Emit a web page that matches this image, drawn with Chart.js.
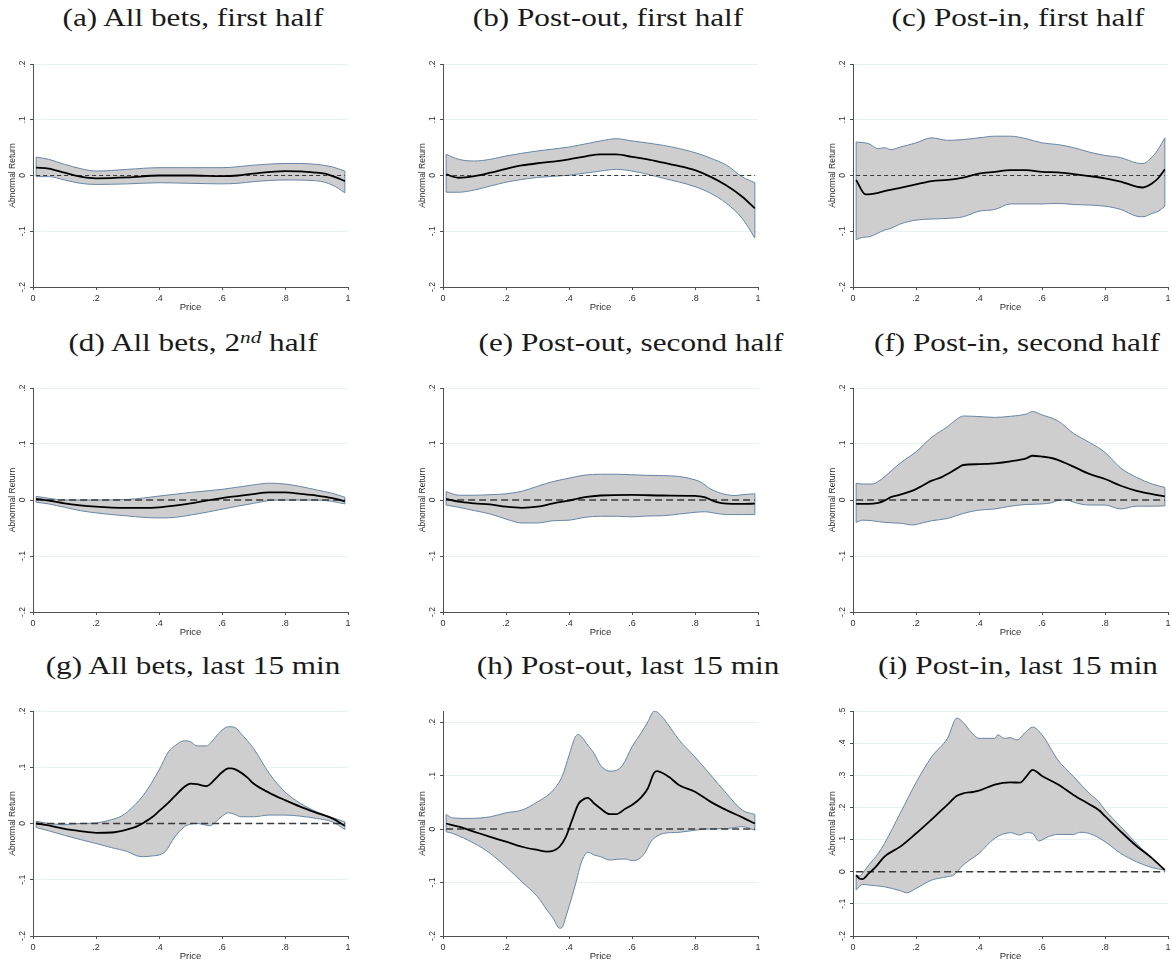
<!DOCTYPE html>
<html>
<head>
<meta charset="utf-8">
<script src="https://cdn.jsdelivr.net/npm/chart.js@4.4.0/dist/chart.umd.min.js"></script>
<style>
  html, body { margin: 0; padding: 0; background: #fff; width: 1171px; height: 965px; overflow: hidden; position: relative; }
  canvas.panel { position: absolute; }
  .cap {
    position: absolute; white-space: nowrap; color: #1a1a1a;
    font-family: "Liberation Serif", "Times New Roman", serif;
    font-size: 26px; line-height: 26px;
    transform: translateX(-50%) scaleX(1.2);
  }
  .cap .sup { font-style: italic; font-size: 0.68em; position: relative; top: -0.45em; }
</style>
</head>
<body>
<script>
// Axis ticks (Stata-style labels without leading zero)
const xTickValues = [0, 0.2, 0.4, 0.6, 0.8, 1];
const xTickLabels = ['0', '.2', '.4', '.6', '.8', '1'];
const yTickValues = [-0.2, -0.1, 0, 0.1, 0.2];
const yTickLabels = ['-.2', '-.1', '0', '.1', '.2'];
const yTickValuesWide = [-0.2, -0.1, 0, 0.1, 0.2, 0.3, 0.4, 0.5];
const yTickLabelsWide = ['-.2', '-.1', '0', '.1', '.2', '.3', '.4', '.5'];

// Range of the zero reference line
const zeroRange = [0.01, 0.99];

// (a) All bets, first half  — [price, abnormal return]
const aMid = [[.01,.014],[.05,.0125],[.1,.005],[.15,-.002],[.2,-.005],[.3,-.0035],[.4,0],[.5,0],[.6,-.001],[.65,0],[.7,.0035],[.8,.008],[.85,.0075],[.9,.005],[.93,.003],[.96,-.003],[.99,-.01]];
const aUpper = [[.01,.033],[.05,.029],[.1,.02],[.15,.0125],[.2,.008],[.3,.011],[.4,.014],[.5,.014],[.6,.014],[.7,.0185],[.8,.0215],[.85,.0215],[.9,.02],[.95,.0155],[.99,.008]];
const aLower = [[.01,-.002],[.05,-.002],[.1,-.008],[.15,-.014],[.2,-.016],[.3,-.015],[.4,-.013],[.5,-.014],[.6,-.015],[.65,-.014],[.7,-.011],[.8,-.008],[.9,-.0095],[.95,-.017],[.99,-.031]];

// (b) Post-out, first half
const bMid = [[.01,.002],[.05,-.004],[.1,-.001],[.15,.005],[.2,.012],[.25,.018],[.3,.022],[.35,.025],[.4,.029],[.45,.034],[.5,.038],[.55,.038],[.6,.0335],[.65,.029],[.7,.023],[.75,.017],[.8,.0095],[.85,-.0025],[.9,-.018],[.95,-.038],[.99,-.059]];
const bUpper = [[.01,.038],[.05,.029],[.1,.026],[.15,.029],[.2,.035],[.3,.044],[.4,.051],[.5,.062],[.55,.066],[.6,.062],[.7,.054],[.8,.041],[.85,.031],[.9,.0185],[.95,-.0025],[.99,-.013]];
const bLower = [[.01,-.03],[.05,-.03],[.1,-.026],[.15,-.019],[.2,-.012],[.3,-.0035],[.4,.0005],[.5,.008],[.55,.011],[.6,.008],[.7,-.005],[.8,-.02],[.85,-.032],[.9,-.05],[.95,-.077],[.99,-.112]];

// (c) Post-in, first half
const cMid = [[.01,-.008],[.04,-.034],[.08,-.031],[.1,-.028],[.15,-.022],[.2,-.016],[.25,-.01],[.3,-.008],[.35,-.004],[.4,.0035],[.45,.0065],[.5,.0095],[.55,.0095],[.6,.0065],[.65,.0055],[.7,.0025],[.75,-.001],[.8,-.005],[.85,-.011],[.9,-.02],[.92,-.0215],[.95,-.014],[.97,-.004],[.99,.011]];
const cUpper = [[.01,.06],[.05,.057],[.08,.048],[.1,.05],[.12,.0465],[.15,.051],[.2,.0585],[.25,.0675],[.3,.063],[.35,.0645],[.4,.0675],[.45,.0705],[.5,.0705],[.55,.066],[.6,.0585],[.65,.0555],[.7,.05],[.75,.042],[.8,.036],[.85,.032],[.9,.0225],[.92,.0215],[.95,.0335],[.97,.048],[.99,.0675]];
const cLower = [[.01,-.115],[.03,-.111],[.05,-.11],[.08,-.103],[.1,-.098],[.12,-.095],[.15,-.087],[.2,-.08],[.25,-.078],[.3,-.077],[.35,-.074],[.4,-.064],[.45,-.061],[.5,-.051],[.55,-.051],[.6,-.051],[.65,-.05],[.7,-.052],[.75,-.053],[.8,-.055],[.85,-.061],[.9,-.073],[.92,-.074],[.95,-.068],[.97,-.064],[.99,-.055]];

// (d) All bets, 2nd half
const dMid = [[.01,.002],[.05,-.001],[.1,-.006],[.15,-.0095],[.2,-.012],[.25,-.0135],[.3,-.014],[.35,-.014],[.4,-.013],[.45,-.01],[.5,-.006],[.55,-.001],[.6,.0035],[.65,.007],[.7,.0105],[.75,.0135],[.8,.0135],[.85,.011],[.9,.008],[.95,.0035],[.99,-.0025]];
const dUpper = [[.01,.0065],[.05,.003],[.1,0],[.2,0],[.3,.001],[.35,.0035],[.4,.007],[.5,.0135],[.6,.019],[.7,.027],[.75,.03],[.8,.0285],[.85,.024],[.9,.018],[.95,.012],[.99,.005]];
const dLower = [[.01,-.004],[.05,-.007],[.1,-.013],[.15,-.019],[.2,-.023],[.25,-.026],[.3,-.0285],[.35,-.031],[.4,-.032],[.45,-.031],[.5,-.027],[.55,-.022],[.6,-.0165],[.65,-.011],[.7,-.006],[.75,-.001],[.8,0],[.85,0],[.9,0],[.95,-.0025],[.99,-.007]];

// (e) Post-out, second half
const eMid = [[.01,.002],[.05,-.003],[.1,-.006],[.15,-.008],[.2,-.012],[.25,-.014],[.3,-.012],[.35,-.006],[.4,-.001],[.45,.005],[.5,.008],[.6,.009],[.7,.008],[.8,.0075],[.83,.005],[.87,-.004],[.9,-.0065],[.95,-.007],[.99,-.0065]];
const eUpper = [[.01,.015],[.03,.011],[.05,.0085],[.1,.0085],[.15,.0095],[.2,.011],[.25,.0155],[.3,.0245],[.35,.033],[.4,.039],[.45,.0445],[.5,.046],[.55,.046],[.6,.045],[.65,.044],[.7,.0435],[.75,.042],[.8,.036],[.82,.0315],[.85,.0195],[.9,.0095],[.93,.008],[.95,.0095],[.99,.011]];
const eLower = [[.01,-.009],[.05,-.013],[.1,-.019],[.15,-.025],[.2,-.034],[.25,-.041],[.3,-.041],[.35,-.037],[.4,-.036],[.45,-.031],[.5,-.029],[.55,-.029],[.6,-.03],[.65,-.0285],[.7,-.028],[.75,-.025],[.8,-.022],[.83,-.021],[.87,-.024],[.9,-.026],[.95,-.026],[.99,-.026]];

// (f) Post-in, second half
const fMid = [[.01,-.007],[.05,-.007],[.08,-.005],[.1,-.001],[.12,.005],[.15,.0095],[.18,.015],[.2,.0195],[.22,.0255],[.25,.0345],[.28,.0405],[.3,.0465],[.33,.0565],[.35,.0625],[.4,.064],[.45,.0655],[.5,.069],[.55,.0745],[.57,.079],[.6,.0775],[.63,.075],[.65,.0715],[.7,.0595],[.75,.0465],[.8,.0375],[.85,.0255],[.9,.0165],[.95,.0105],[.99,.0065]];
const fUpper = [[.01,.03],[.03,.0285],[.06,.0285],[.08,.033],[.1,.0415],[.15,.066],[.2,.086],[.25,.112],[.3,.131],[.33,.1445],[.35,.15],[.4,.149],[.45,.1475],[.5,.1495],[.55,.1535],[.57,.158],[.6,.152],[.65,.1415],[.7,.119],[.75,.103],[.8,.085],[.85,.057],[.9,.0405],[.95,.0285],[.99,.0225]];
const fLower = [[.01,-.04],[.03,-.036],[.06,-.037],[.1,-.04],[.15,-.0415],[.19,-.0445],[.22,-.041],[.25,-.037],[.3,-.033],[.35,-.024],[.4,-.018],[.45,-.016],[.5,-.011],[.55,-.008],[.6,-.007],[.63,-.005],[.65,-.001],[.68,0],[.7,-.004],[.75,-.009],[.8,-.009],[.85,-.016],[.9,-.011],[.95,-.011],[.99,-.0105]];

// (g) All bets, last 15 min
const gMid = [[.01,0],[.05,-.0035],[.1,-.0095],[.15,-.0135],[.2,-.0165],[.25,-.016],[.3,-.0105],[.33,-.005],[.35,.001],[.38,.012],[.4,.022],[.43,.037],[.45,.0485],[.48,.065],[.5,.071],[.52,.07],[.55,.0665],[.58,.08],[.6,.091],[.62,.098],[.63,.098],[.65,.094],[.68,.082],[.7,.071],[.75,.0545],[.8,.0415],[.85,.0295],[.9,.019],[.95,.009],[.99,-.004]];
const gUpper = [[.01,.004],[.05,0],[.1,-.002],[.15,0],[.2,.001],[.25,.007],[.28,.013],[.3,.021],[.35,.05],[.4,.095],[.43,.1275],[.45,.138],[.48,.147],[.5,.1455],[.52,.138],[.55,.138],[.58,.154],[.6,.166],[.62,.172],[.64,.171],[.66,.16],[.7,.1335],[.75,.089],[.8,.056],[.85,.0355],[.9,.021],[.95,.0105],[.99,.003]];
const gLower = [[.01,-.007],[.05,-.013],[.1,-.021],[.15,-.0285],[.2,-.0355],[.25,-.043],[.3,-.05],[.33,-.0575],[.35,-.059],[.38,-.0575],[.4,-.056],[.42,-.05],[.45,-.024],[.48,-.006],[.5,-.001],[.52,0],[.55,-.003],[.56,-.004],[.58,.003],[.6,.013],[.62,.019],[.64,.0165],[.66,.012],[.7,.012],[.75,.015],[.8,.015],[.85,.013],[.9,.009],[.95,.003],[.99,-.0105]];

// (h) Post-out, last 15 min
const hMid = [[.01,.0105],[.05,.0045],[.1,-.005],[.15,-.0145],[.2,-.0235],[.25,-.033],[.3,-.039],[.33,-.042],[.35,-.0405],[.37,-.033],[.39,-.0145],[.41,.017],[.43,.047],[.45,.057],[.46,.0585],[.48,.048],[.5,.0385],[.53,.028],[.55,.028],[.58,.0385],[.6,.045],[.63,.06],[.65,.076],[.67,.105],[.68,.1085],[.7,.104],[.72,.0965],[.75,.082],[.8,.07],[.85,.051],[.9,.0355],[.95,.022],[.99,.0105]];
const hUpper = [[.01,.0275],[.03,.021],[.08,.02],[.15,.023],[.2,.0305],[.25,.0355],[.3,.051],[.35,.073],[.38,.101],[.4,.138],[.42,.1725],[.43,.177],[.44,.1725],[.46,.157],[.48,.1415],[.5,.1195],[.53,.1085],[.55,.11],[.57,.1195],[.6,.154],[.63,.181],[.65,.2005],[.67,.2205],[.68,.219],[.7,.207],[.75,.1665],[.8,.135],[.85,.101],[.9,.0665],[.95,.0355],[.99,.0275]];
const hLower = [[.01,-.005],[.03,-.008],[.1,-.027],[.15,-.0455],[.2,-.0705],[.25,-.0985],[.3,-.1265],[.33,-.1515],[.35,-.167],[.37,-.1855],[.38,-.1825],[.39,-.164],[.4,-.145],[.42,-.1045],[.44,-.061],[.46,-.0435],[.48,-.0485],[.5,-.0515],[.53,-.058],[.55,-.0565],[.58,-.056],[.6,-.059],[.62,-.0565],[.64,-.0455],[.66,-.0235],[.68,-.013],[.7,-.008],[.75,-.006],[.8,-.002],[.85,.0005],[.9,.001],[.95,.0045],[.99,-.002]];

// (i) Post-in, last 15 min
const iMid = [[.01,-.0105],[.02,-.021],[.03,-.023],[.05,-.005],[.07,.0125],[.1,.047],[.15,.078],[.2,.119],[.25,.163],[.3,.209],[.33,.236],[.35,.244],[.38,.248],[.4,.252],[.45,.271],[.5,.278],[.53,.277],[.55,.296],[.57,.317],[.6,.298],[.65,.272],[.7,.239],[.75,.21],[.78,.192],[.8,.173],[.85,.125],[.9,.08],[.95,.0415],[.99,.005]];
const iUpper = [[.01,-.0105],[.02,-.0135],[.03,-.005],[.05,.021],[.08,.057],[.1,.088],[.15,.182],[.2,.277],[.25,.358],[.3,.415],[.33,.478],[.35,.464],[.38,.429],[.4,.415],[.45,.415],[.46,.426],[.48,.415],[.5,.417],[.52,.41],[.55,.436],[.57,.45],[.6,.426],[.65,.348],[.7,.296],[.75,.244],[.78,.218],[.8,.192],[.85,.14],[.9,.088],[.95,.0415],[.99,.007]];
const iLower = [[.01,-.057],[.03,-.0395],[.05,-.0415],[.1,-.047],[.15,-.059],[.17,-.0655],[.2,-.052],[.25,-.026],[.3,-.0155],[.32,-.0105],[.35,.021],[.4,.057],[.45,.104],[.5,.1215],[.53,.114],[.55,.1215],[.57,.119],[.59,.0955],[.62,.109],[.65,.116],[.7,.116],[.72,.1225],[.75,.119],[.8,.0935],[.85,.057],[.9,.031],[.95,.0125],[.99,.005]];

// Panel layout: grid cell, caption centre and y-range
const panels = [
  { cap: '(a) All bets, first half',    col: 0, row: 0, capX: 193,  mid: aMid, up: aUpper, lo: aLower, yMax: 0.2 },
  { cap: '(b) Post-out, first half',    col: 1, row: 0, capX: 608,  mid: bMid, up: bUpper, lo: bLower, yMax: 0.2 },
  { cap: '(c) Post-in, first half',     col: 2, row: 0, capX: 1018, mid: cMid, up: cUpper, lo: cLower, yMax: 0.2 },
  { cap: '(d) All bets, 2<span class="sup">nd</span> half', col: 0, row: 1, capX: 193, mid: dMid, up: dUpper, lo: dLower, yMax: 0.2 },
  { cap: '(e) Post-out, second half',   col: 1, row: 1, capX: 631,  mid: eMid, up: eUpper, lo: eLower, yMax: 0.2 },
  { cap: '(f) Post-in, second half',    col: 2, row: 1, capX: 1017, mid: fMid, up: fUpper, lo: fLower, yMax: 0.2 },
  { cap: '(g) All bets, last 15 min',   col: 0, row: 2, capX: 193,  mid: gMid, up: gUpper, lo: gLower, yMax: 0.2 },
  { cap: '(h) Post-out, last 15 min',   col: 1, row: 2, capX: 628,  mid: hMid, up: hUpper, lo: hLower, yMax: 0.221 },
  { cap: '(i) Post-in, last 15 min',    col: 2, row: 2, capX: 1018, mid: iMid, up: iUpper, lo: iLower, yMax: 0.5, wide: true }
];

const rowPlotTop = [64, 388, 711];
const rowPadBottom = [11, 10, 9];
const rowCapTop = [5, 330, 653];
const rowDash = [[4, 3], [7, 4], [7, 4]];
const rowDashWidth = [1.1, 1.4, 1.5];

const bandFill = 'rgb(206,206,206)';
const bandEdge = 'rgb(104,134,164)';
const axisColor = '#505050';
const textColor = '#2e2e2e';
const gridColor = 'rgb(232,240,242)';
const sans = '"Liberation Sans", Arial, sans-serif';

const toPts = arr => arr.map(p => ({ x: p[0], y: p[1] }));

panels.forEach(p => {
  const cap = document.createElement('div');
  cap.className = 'cap';
  cap.innerHTML = p.cap;
  cap.style.left = p.capX + 'px';
  cap.style.top = rowCapTop[p.row] + 'px';
  document.body.appendChild(cap);

  const cv = document.createElement('canvas');
  cv.className = 'panel';
  cv.width = 390;
  cv.height = 280;
  cv.style.left = (p.col * 410) + 'px';
  cv.style.top = (rowPlotTop[p.row] - 20) + 'px';
  document.body.appendChild(cv);

  const yVals = p.wide ? yTickValuesWide : yTickValues;
  const yLabs = p.wide ? yTickLabelsWide : yTickLabels;
  const lastUp = p.up.length - 1, lastLo = p.lo.length - 1;

  new Chart(cv, {
    type: 'line',
    data: {
      datasets: [
        // confidence band: upper edge filled down to the lower edge
        { data: toPts(p.up), fill: '+1', backgroundColor: bandFill, borderColor: bandEdge, borderWidth: 1, order: 5 },
        { data: toPts(p.lo), fill: false, borderColor: bandEdge, borderWidth: 1, order: 4 },
        // closing edges of the band at both ends
        { data: [{ x: p.lo[0][0], y: p.lo[0][1] }, { x: p.up[0][0], y: p.up[0][1] }], fill: false, borderColor: bandEdge, borderWidth: 1, order: 4, cubicInterpolationMode: 'default', tension: 0 },
        { data: [{ x: p.lo[lastLo][0], y: p.lo[lastLo][1] }, { x: p.up[lastUp][0], y: p.up[lastUp][1] }], fill: false, borderColor: bandEdge, borderWidth: 1, order: 4, cubicInterpolationMode: 'default', tension: 0 },
        // zero reference
        { data: zeroRange.map(x => ({ x, y: 0 })), fill: false, borderColor: '#3a3a3a', borderWidth: rowDashWidth[p.row], borderDash: rowDash[p.row], order: 2, cubicInterpolationMode: 'default', tension: 0 },
        // local polynomial estimate
        { data: toPts(p.mid), fill: false, borderColor: '#000', borderWidth: 1.8, order: 1 }
      ]
    },
    options: {
      responsive: false,
      animation: false,
      devicePixelRatio: 1,
      layout: { padding: { top: 20, right: 42, bottom: rowPadBottom[p.row], left: 0 } },
      plugins: { legend: { display: false }, tooltip: { enabled: false }, title: { display: false } },
      elements: { point: { radius: 0 }, line: { cubicInterpolationMode: 'monotone', capBezierPoints: true } },
      scales: {
        x: {
          type: 'linear', min: 0, max: 1,
          afterBuildTicks: s => { s.ticks = xTickValues.map(v => ({ value: v })); },
          afterFit: s => { s.height = 26; },
          ticks: { callback: (v, i) => xTickLabels[i], autoSkip: false, maxRotation: 0, padding: 3,
                   font: { family: sans, size: 9 }, color: textColor },
          grid: { drawOnChartArea: false, drawTicks: true, tickLength: 3, tickColor: axisColor, tickWidth: 1 },
          border: { display: true, color: axisColor, width: 1 },
          title: { display: true, text: 'Price', color: textColor, font: { family: sans, size: 9.5 }, padding: { top: 0, bottom: 0 } }
        },
        y: {
          type: 'linear', min: -0.2, max: p.yMax,
          afterBuildTicks: s => { s.ticks = yVals.map(v => ({ value: v })); },
          afterFit: s => { s.width = 33; },
          ticks: { callback: (v, i) => yLabs[i], autoSkip: false, minRotation: 90, maxRotation: 90, crossAlign: 'center', padding: 2,
                   font: { family: sans, size: 8.5 }, color: textColor },
          grid: { drawOnChartArea: true, color: gridColor, lineWidth: 1, drawTicks: true, tickLength: 3, tickColor: axisColor, tickWidth: 1 },
          border: { display: true, color: axisColor, width: 1 },
          title: { display: true, text: 'Abnormal Return', color: textColor, font: { family: sans, size: 8.5 }, padding: { top: 8, bottom: 0 } }
        }
      }
    }
  });
});
</script>
</body>
</html>
